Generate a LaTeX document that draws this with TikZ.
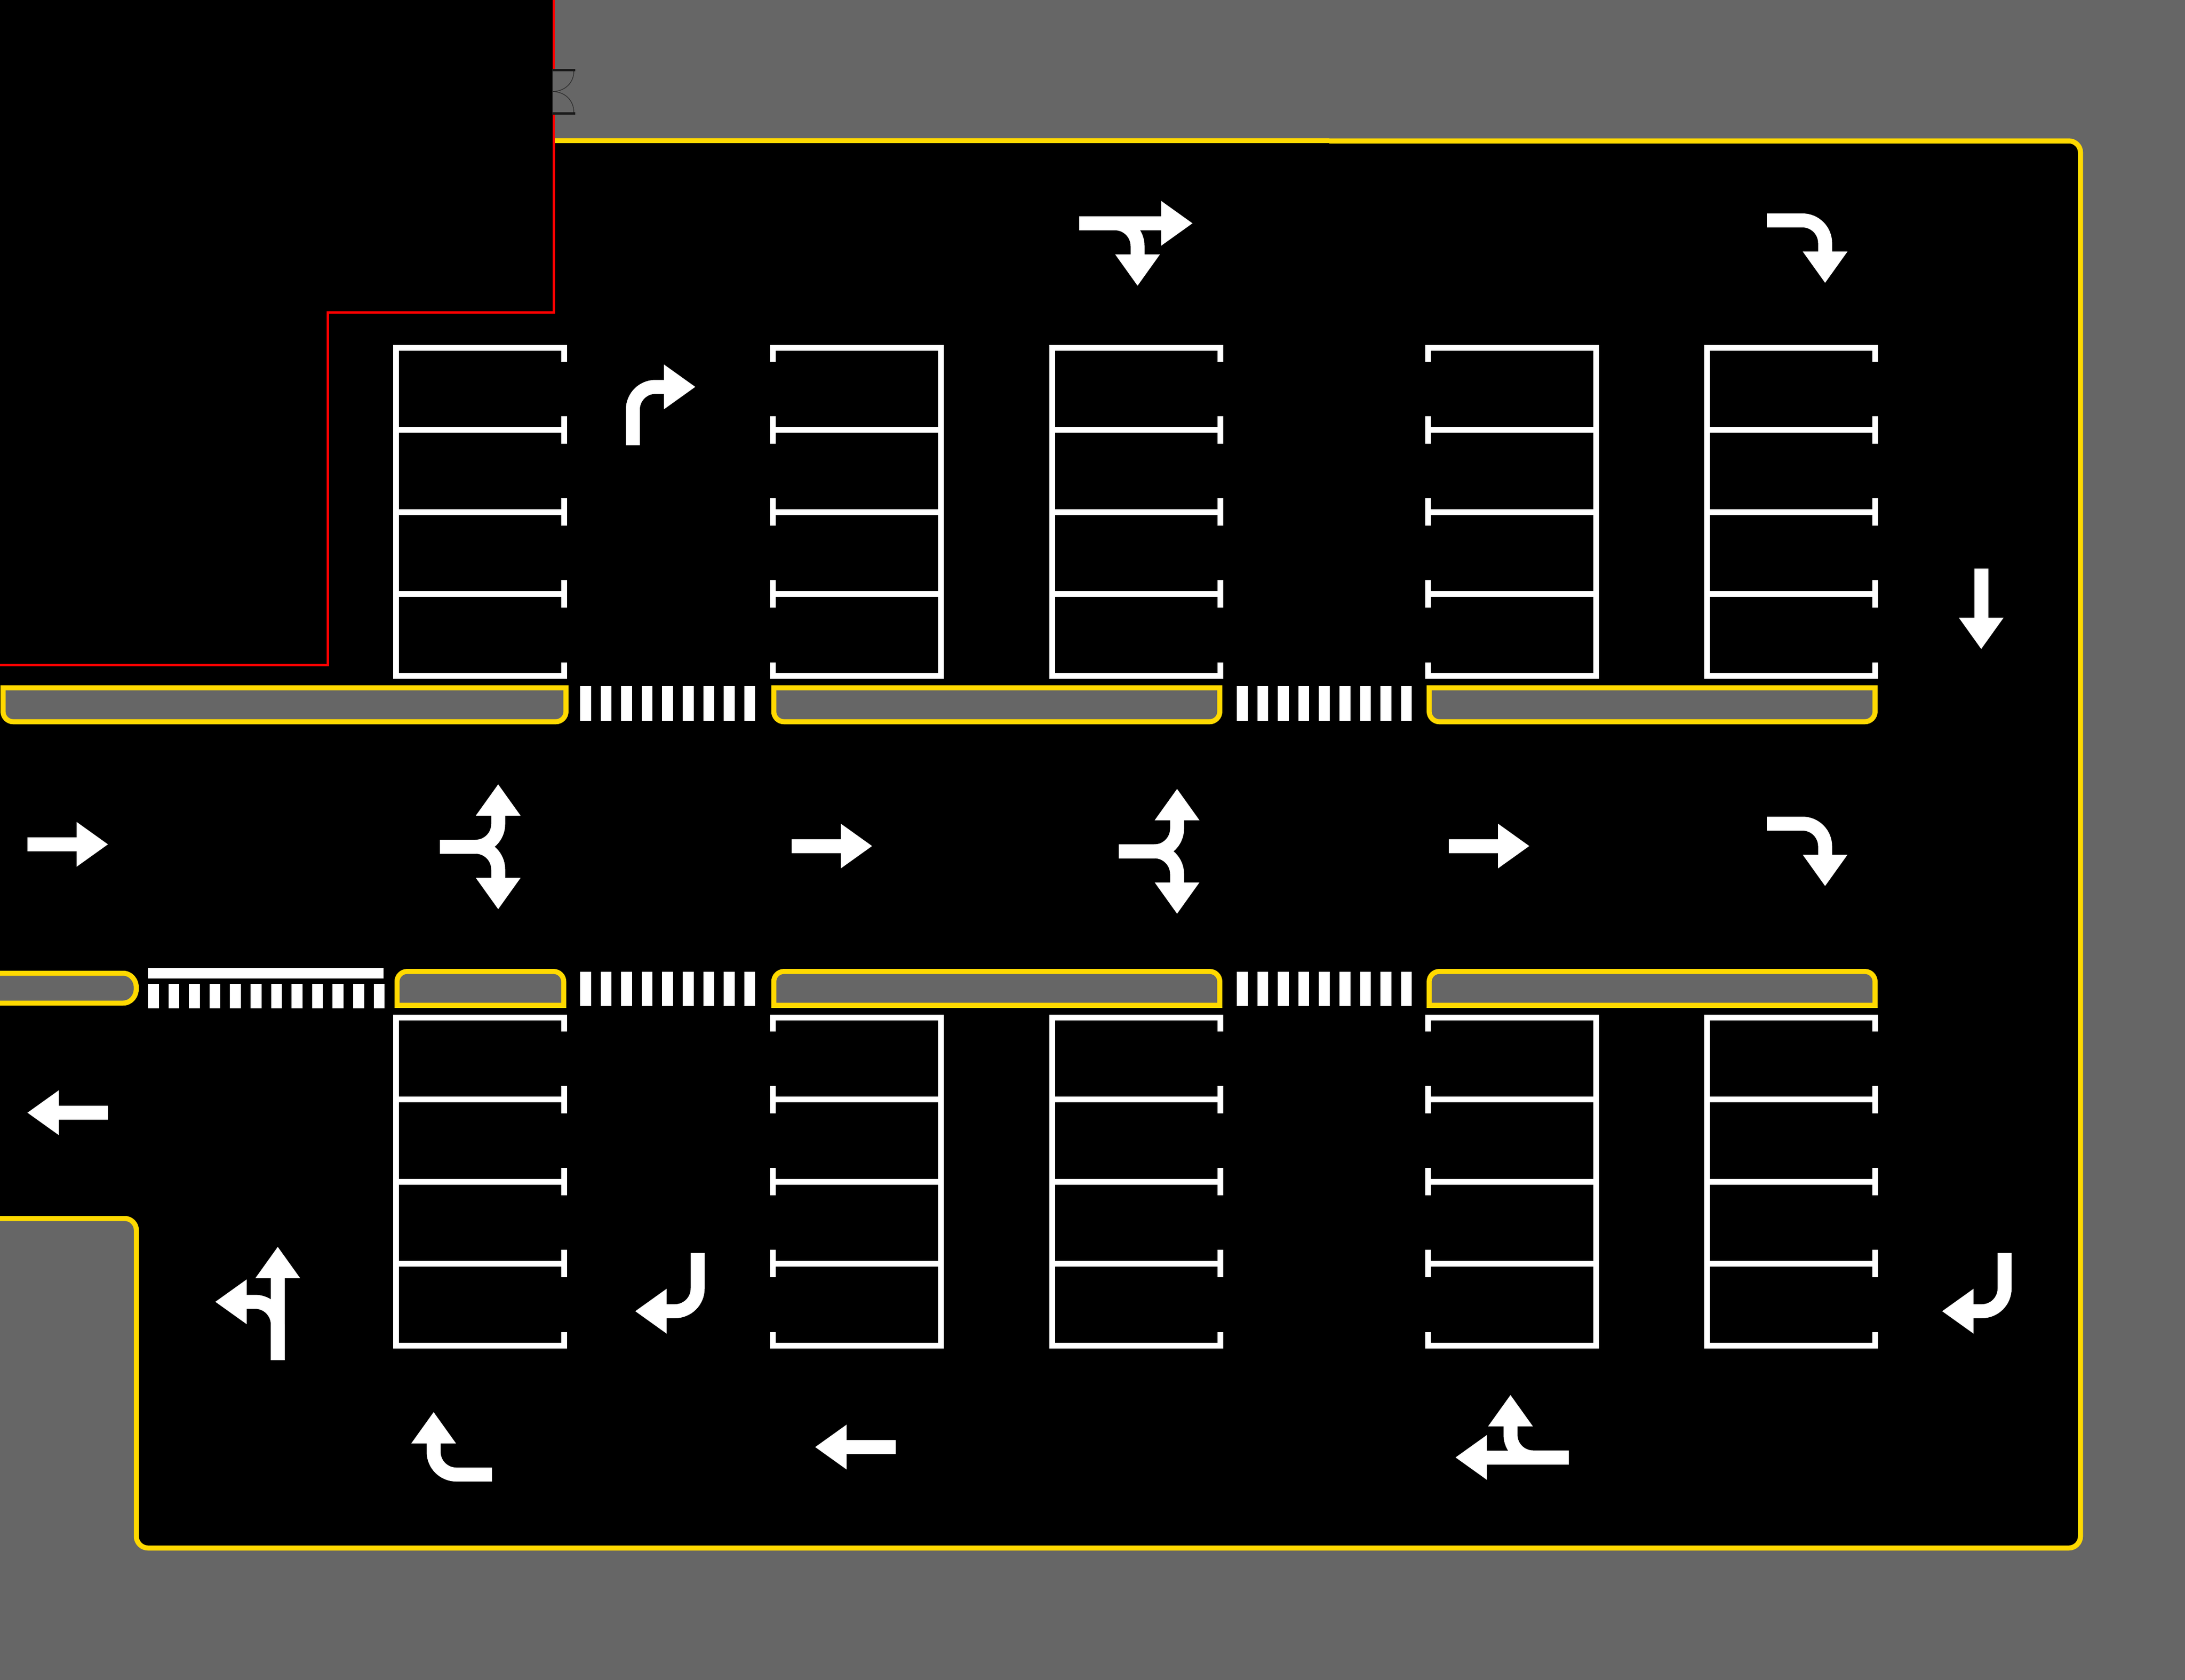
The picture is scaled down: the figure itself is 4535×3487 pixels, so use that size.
\documentclass[tikz,border=0pt]{standalone}
\definecolor{ground}{HTML}{666666}
\definecolor{curb}{HTML}{FFD900}
\definecolor{doorbar}{HTML}{1A1A1A}
\tikzset{
  x=0.01cm,y=0.01cm,
  mark line/.style={draw=white,line width=0.12cm,miter limit=10},
  curb line/.style={draw=curb,fill=ground,line width=0.105cm},
  stem/.style={draw=white,line width=0.29cm},
  head/.style={fill=white},
  bar/.style={fill=white}
}
% turn arrow: tail at #1,#2 (image px), heading #3, side #4
\newcommand{\TurnArrow}[4]{%
  \begin{scope}[shift={(#1,-#2)},rotate=#3,yscale=#4]
    \draw[stem] (0,0) -- (74,0) .. controls (100,0) and (121,21) .. (121,47) -- (121,66);
    \fill[head] (74.5,64.5) -- (167.5,64.5) -- (121,129.5) -- cycle;
  \end{scope}}
\newcommand{\StraightArrow}[3]{%
  \begin{scope}[shift={(#1,-#2)},rotate=#3]
    \draw[stem] (0,0) -- (104,0);
    \fill[head] (102,46.5) -- (102,-46.5) -- (167,0) -- cycle;
  \end{scope}}
\newcommand{\LongArrow}[3]{%
  \begin{scope}[shift={(#1,-#2)},rotate=#3]
    \draw[stem] (0,0) -- (172,0);
    \fill[head] (170,46.5) -- (170,-46.5) -- (235,0) -- cycle;
  \end{scope}}
% parking block: left, top, closed side (0 = left closed, open right; 1 = right closed, open left)
\newcommand{\Stalls}[3]{%
  \begin{scope}[shift={(#1,-#2)}]
    \ifnum#3=0
      \draw[mark line] (355,-35) -- (355,-6) -- (6,-6) -- (6,-687) -- (355,-687) -- (355,-659);
      \foreach \yy in {176.25,346.5,516.75}{
        \draw[mark line] (6,-\yy) -- (355,-\yy);
        \draw[mark line] (355,-\yy+28.5) -- (355,-\yy-28.5);}
    \else
      \draw[mark line] (6,-35) -- (6,-6) -- (355,-6) -- (355,-687) -- (6,-687) -- (6,-659);
      \foreach \yy in {176.25,346.5,516.75}{
        \draw[mark line] (6,-\yy) -- (355,-\yy);
        \draw[mark line] (6,-\yy+28.5) -- (6,-\yy-28.5);}
    \fi
  \end{scope}}
% crosswalk bars: first x, top y, bottom y, count
\newcommand{\Crossing}[4]{%
  \foreach \ii in {1,...,#4}{
    \fill[bar] ({#1+(\ii-1)*42.6},-#2) rectangle ({#1+(\ii-1)*42.6+22.5},-#3);}}
% island with square top, rounded bottom
\newcommand{\UpperIsland}[2]{%
  \draw[curb line] (#1,-1427.5) -- (#2,-1427.5) -- (#2,-1477)
    .. controls (#2,-1488.5) and (#2-9.5,-1498) .. (#2-21,-1498) -- (#1+21,-1498)
    .. controls (#1+9.5,-1498) and (#1,-1488.5) .. (#1,-1477) -- cycle;}
% island with rounded top, square bottom
\newcommand{\LowerIsland}[2]{%
  \draw[curb line] (#1,-2086.7) -- (#2,-2086.7) -- (#2,-2037.3)
    .. controls (#2,-2025.8) and (#2-9.5,-2016.3) .. (#2-21,-2016.3) -- (#1+21,-2016.3)
    .. controls (#1+9.5,-2016.3) and (#1,-2025.8) .. (#1,-2037.3) -- cycle;}
\begin{document}
\begin{tikzpicture}
\useasboundingbox (0,-3487) rectangle (4535,0);
\fill[ground] (0,-3487) rectangle (4535,0);
% road and building
\fill[black] (0,0) -- (1149,0) -- (1149,-292) -- (4294,-292)
  .. controls (4307,-292) and (4318,-303) .. (4318,-316) -- (4318,-3189)
  .. controls (4318,-3202) and (4307,-3213) .. (4294,-3213) -- (307,-3213)
  .. controls (294,-3213) and (283,-3202) .. (283,-3189) -- (283,-2553)
  .. controls (283,-2540) and (272,-2529) .. (259,-2529) -- (0,-2529) -- cycle;
% curb
\draw[draw=curb,line width=0.105cm] (1149,-292) -- (2759,-292);
\draw[draw=curb,line width=0.105cm] (2759,-292.5) -- (4294,-292.5)
  .. controls (4307,-292.5) and (4318,-303) .. (4318,-316) -- (4318,-3189)
  .. controls (4318,-3202) and (4307,-3213) .. (4294,-3213) -- (307,-3213)
  .. controls (294,-3213) and (283,-3202) .. (283,-3189) -- (283,-2553)
  .. controls (283,-2540) and (272,-2529) .. (259,-2529) -- (0,-2529);
% building outline
\draw[draw=red,line width=0.05cm] (1149,0) -- (1149,-648) -- (680,-648) -- (680,-1380) -- (0,-1380);
% door
\fill[ground] (1146.5,-148) rectangle (1152,-233);
\draw[draw=doorbar,line width=0.01cm] (1146.5,-148) -- (1146.5,-233);
\draw[draw=doorbar!90!white,line width=0.015cm] (1146.5,-190) .. controls (1172,-190) and (1191,-172) .. (1191,-148);
\draw[draw=doorbar!90!white,line width=0.015cm] (1146.5,-190) .. controls (1172,-190) and (1191,-208) .. (1191,-233);
\fill[doorbar] (1146,-143) rectangle (1194,-148);
\fill[doorbar] (1146,-233) rectangle (1194,-238);
% parking
\foreach \tp in {716,2106}{
  \Stalls{816}{\tp}{0}
  \Stalls{1598}{\tp}{1}
  \Stalls{2178}{\tp}{0}
  \Stalls{2958}{\tp}{1}
  \Stalls{3537}{\tp}{0}
}
% islands
\UpperIsland{6.3}{1174.7}
\UpperIsland{1606}{2531.7}
\UpperIsland{2966.3}{3891.7}
\draw[curb line] (0,-2020) -- (255,-2020) .. controls (272,-2020) and (283,-2034) .. (283,-2051)
  .. controls (283,-2068) and (272,-2082) .. (255,-2082) -- (0,-2082);
\LowerIsland{824}{1170}
\LowerIsland{1606}{2531.7}
\LowerIsland{2966.3}{3891.7}
% crossings
\Crossing{1204}{1423.5}{1495.5}{9}
\Crossing{2567}{1423.5}{1495.5}{9}
\Crossing{1204}{2017}{2088}{9}
\Crossing{2567}{2017}{2088}{9}
\Crossing{307}{2042}{2093}{12}
\fill[bar] (307,-2009) rectangle (796,-2031);
% straight arrows
\StraightArrow{57}{1752.5}{0}
\StraightArrow{1643}{1756}{0}
\StraightArrow{3007}{1756}{0}
\StraightArrow{224}{2309.5}{180}
\StraightArrow{1859}{3003.5}{180}
\StraightArrow{4112}{1180}{-90}
% turn arrows
\TurnArrow{1313.5}{924}{90}{-1}
\TurnArrow{3667}{457.5}{0}{-1}
\TurnArrow{3667}{1709.5}{0}{-1}
\TurnArrow{1448}{2600.5}{-90}{-1}
\TurnArrow{4160.5}{2600.5}{-90}{-1}
\TurnArrow{1021}{3060.5}{180}{-1}
% straight with branch
\LongArrow{2240}{463.5}{0}\TurnArrow{2240}{463.5}{0}{-1}
\LongArrow{576.5}{2823}{90}\TurnArrow{576.5}{2823}{90}{1}
\LongArrow{3256}{3025}{180}\TurnArrow{3256}{3025}{180}{-1}
% forks
\TurnArrow{913}{1757.5}{0}{1}\TurnArrow{913}{1757.5}{0}{-1}
\TurnArrow{2322}{1767}{0}{1}\TurnArrow{2322}{1767}{0}{-1}
\end{tikzpicture}
\end{document}
